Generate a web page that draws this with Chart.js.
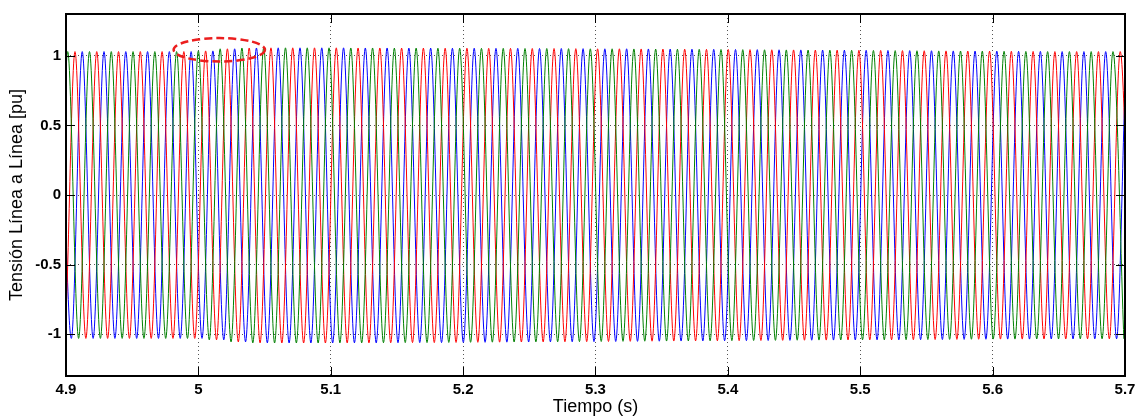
<!DOCTYPE html>
<html>
<head>
<meta charset="utf-8">
<script src="https://cdn.jsdelivr.net/npm/chart.js@4/dist/chart.umd.min.js"></script>
<style>
  html, body { margin: 0; padding: 0; background: #fff; }
  canvas { display: block; }
</style>
</head>
<body>
<canvas id="grafico" width="1145" height="418"></canvas>
<script>
// Ticks de los ejes
const tiempoTicks = [4.9, 5.0, 5.1, 5.2, 5.3, 5.4, 5.5, 5.6, 5.7];
const tensionTicks = [-1, -0.5, 0, 0.5, 1];

// Instante del primer pico de la fase verde y periodo (s)
const inicioVerde = 4.9013;
const periodo = 0.01645;

// Picos positivos y negativos de cada ciclo (ciclo -1 .. 48)
const picoPositivo = [
  1.03, 1.03, 1.03, 1.03, 1.03, 1.03, 1.03,
  1.035, 1.05, 1.056, 1.057, 1.057, 1.057, 1.057, 1.056, 1.056,
  1.055, 1.055, 1.054, 1.054, 1.053, 1.053, 1.052, 1.052, 1.051, 1.05,
  1.05, 1.049, 1.048, 1.047, 1.046, 1.045, 1.044, 1.043, 1.042, 1.041,
  1.04, 1.039, 1.038, 1.037, 1.036, 1.035, 1.034, 1.033, 1.032, 1.031, 1.03, 1.03, 1.03, 1.03
];
const picoNegativo = [
  -1.03, -1.03, -1.03, -1.03, -1.03, -1.03, -1.03,
  -1.04, -1.055, -1.062, -1.063, -1.063, -1.063, -1.062, -1.062, -1.061,
  -1.06, -1.06, -1.059, -1.058, -1.057, -1.056, -1.055, -1.054, -1.053, -1.052,
  -1.051, -1.05, -1.049, -1.048, -1.047, -1.046, -1.045, -1.044, -1.043, -1.042,
  -1.041, -1.04, -1.04, -1.039, -1.038, -1.037, -1.036, -1.035, -1.035, -1.034, -1.034, -1.033, -1.033, -1.033
];

// Desfase de cada fase en fracciones de periodo
const fases = [
  { nombre: 'Vab', desfase: 0, color: 'rgb(0,128,0)' },
  { nombre: 'Vbc', desfase: 1 / 3, color: 'rgb(255,0,0)' },
  { nombre: 'Vca', desfase: 2 / 3, color: 'rgb(0,0,255)' }
];

// Marca elipse (centro en s / pu y semiejes)
const marca = { t: 5.0158, v: 1.043, rt: 0.0345, rv: 0.084 };

function puntosFase(desfase) {
  const pts = [];
  for (let i = 0; i < picoPositivo.length; i++) {
    const t = inicioVerde + (i - 1 + desfase) * periodo;
    pts.push({ x: t, y: picoPositivo[i] });
    pts.push({ x: t + periodo / 2, y: picoNegativo[i] });
  }
  return pts;
}

const marcoPlugin = {
  id: 'marco',
  afterDatasetsDraw(chart) {
    const { ctx, chartArea: a, scales } = chart;
    ctx.save();
    // elipse roja discontinua
    const cx = scales.x.getPixelForValue(marca.t);
    const cy = scales.y.getPixelForValue(marca.v);
    const rx = scales.x.getPixelForValue(marca.t + marca.rt) - cx;
    const ry = cy - scales.y.getPixelForValue(marca.v + marca.rv);
    ctx.strokeStyle = 'rgb(235,30,30)';
    ctx.lineWidth = 2.5;
    ctx.setLineDash([8, 4]);
    ctx.beginPath();
    ctx.ellipse(cx, cy, rx, ry, 0, 0, Math.PI * 2);
    ctx.stroke();
    ctx.setLineDash([]);
    // ticks hacia adentro
    ctx.strokeStyle = '#000';
    ctx.lineWidth = 1;
    ctx.beginPath();
    tiempoTicks.forEach(v => {
      const x = Math.round(scales.x.getPixelForValue(v)) + 0.5;
      ctx.moveTo(x, a.bottom); ctx.lineTo(x, a.bottom - 9);
      ctx.moveTo(x, a.top); ctx.lineTo(x, a.top + 9);
    });
    tensionTicks.forEach(v => {
      const y = Math.round(scales.y.getPixelForValue(v)) + 0.5;
      ctx.moveTo(a.left, y); ctx.lineTo(a.left + 9, y);
      ctx.moveTo(a.right, y); ctx.lineTo(a.right - 9, y);
    });
    ctx.stroke();
    // recuadro
    ctx.lineWidth = 2;
    ctx.strokeRect(a.left, a.top, a.right - a.left, a.bottom - a.top);
    ctx.restore();
  }
};

new Chart(document.getElementById('grafico'), {
  type: 'line',
  data: {
    datasets: fases.map(f => ({
      label: f.nombre,
      data: puntosFase(f.desfase),
      borderColor: f.color,
      borderWidth: 1,
      pointRadius: 0,
      cubicInterpolationMode: 'monotone',
      fill: false
    }))
  },
  options: {
    responsive: false,
    animation: false,
    devicePixelRatio: 1,
    layout: { padding: { top: 11, right: 20, left: 0, bottom: 0 } },
    plugins: { legend: { display: false }, tooltip: { enabled: false } },
    scales: {
      x: {
        type: 'linear',
        min: 4.9,
        max: 5.7,
        afterBuildTicks: s => { s.ticks = tiempoTicks.map(v => ({ value: v })); },
        afterFit: s => { s.height = 42; },
        grid: { color: '#555', drawTicks: false },
        border: { display: false, dash: [1, 3] },
        ticks: {
          padding: 5,
          color: '#000',
          font: { family: 'Liberation Sans, Arial', size: 15, weight: 'bold' },
          callback: v => String(Math.round(v * 10) / 10)
        },
        title: {
          display: true,
          text: 'Tiempo (s)',
          color: '#000',
          padding: { top: 0, bottom: 0 },
          font: { family: 'Liberation Sans, Arial', size: 18 }
        }
      },
      y: {
        min: -1.3,
        max: 1.3,
        afterBuildTicks: s => { s.ticks = tensionTicks.map(v => ({ value: v })); },
        afterFit: s => { s.width = 66; },
        grid: { color: '#555', drawTicks: false },
        border: { display: false, dash: [1, 3] },
        ticks: {
          padding: 5,
          color: '#000',
          font: { family: 'Liberation Sans, Arial', size: 15, weight: 'bold' },
          callback: v => String(v)
        },
        title: {
          display: true,
          text: 'Tensión Línea a Línea [pu]',
          color: '#000',
          padding: { top: 6, bottom: 0 },
          font: { family: 'Liberation Sans, Arial', size: 18 }
        }
      }
    }
  },
  plugins: [marcoPlugin]
});
</script>
</body>
</html>
